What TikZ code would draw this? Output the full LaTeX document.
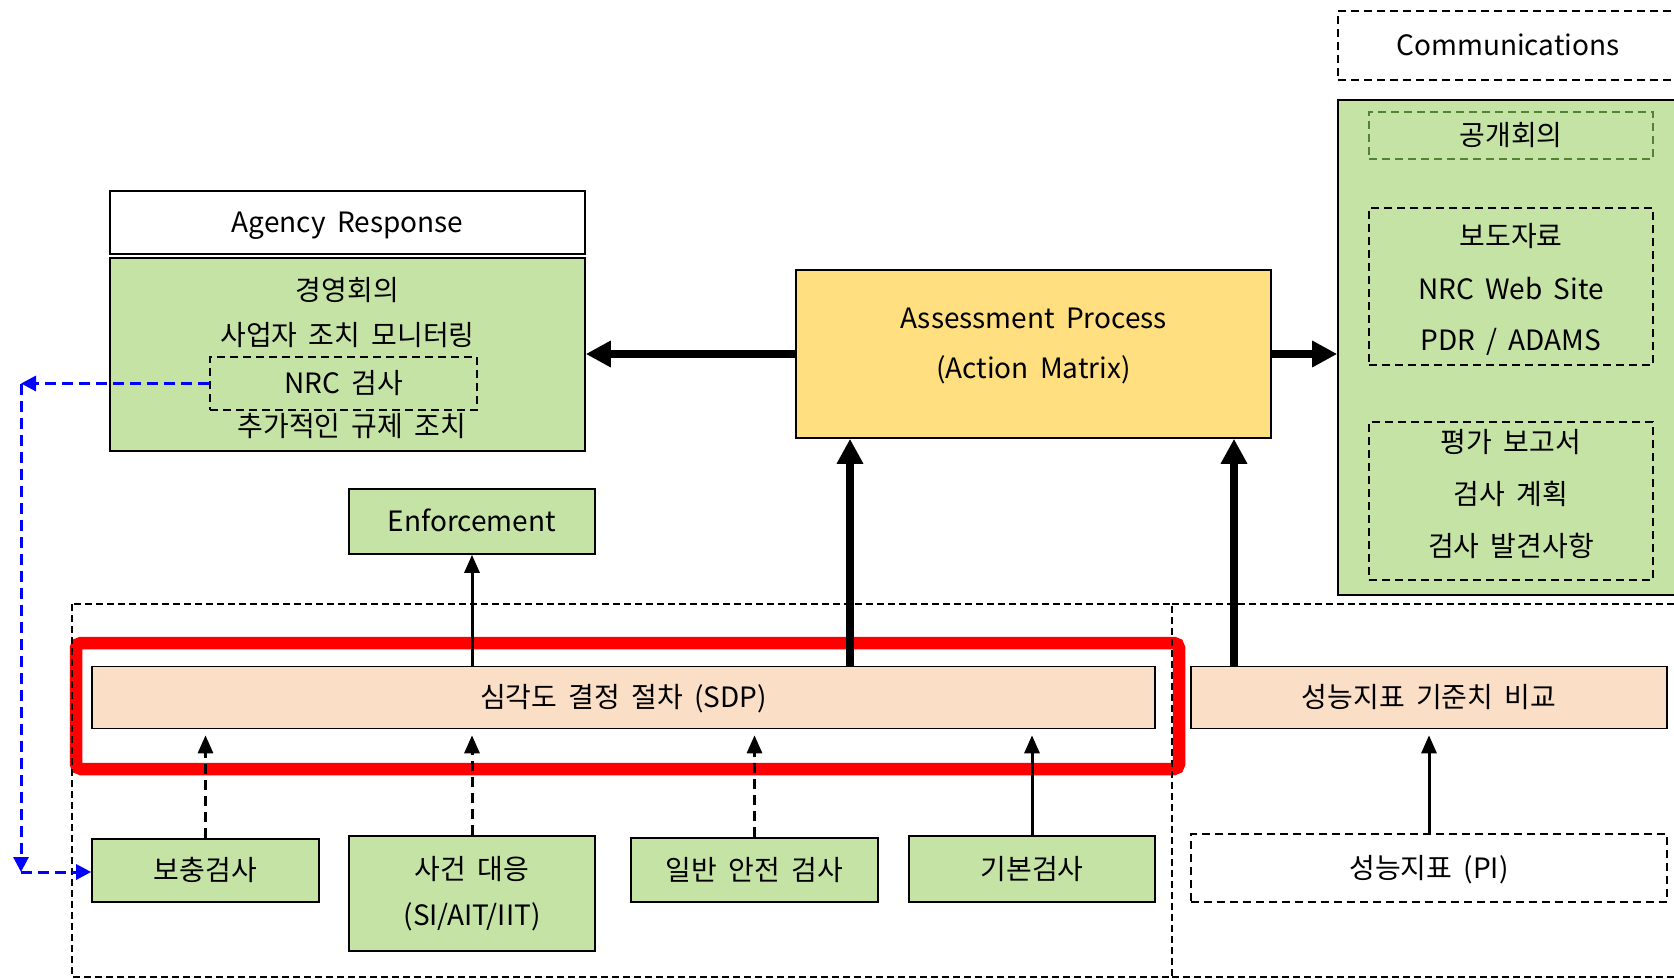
\documentclass[tikz,border=0pt]{standalone}
\usepackage{fontspec}
\setmainfont[WordSpace=1.8]{Noto Sans CJK KR}
\usetikzlibrary{arrows.meta}
\definecolor{leafgreen}{RGB}{198,227,166}
\definecolor{sungold}{RGB}{255,223,128}
\definecolor{peach}{RGB}{250,222,198}
\definecolor{olivedash}{RGB}{84,130,53}
\definecolor{linkblue}{RGB}{0,0,255}
\begin{document}
\begin{tikzpicture}[x=1pt,y=-1pt,
  font=\fontsize{28}{32}\selectfont,
  box/.style={draw, line width=1.6pt, inner sep=0pt, align=center,
    text height=26pt, text depth=6pt},
  dbox/.style={box, line width=2.8pt, dash pattern=on 8pt off 5pt},
  txt/.style={inner sep=0pt, text height=26pt, text depth=6pt},
  region/.style={line width=2.6pt, dash pattern=on 7pt off 4pt},
  bigarrow/.style={line width=8.5pt, -{Triangle[length=25pt,width=25pt]}},
  arrowline/.style={line width=3pt, -{Triangle[length=18pt,width=15pt]}},
  darrowline/.style={arrowline, dash pattern=on 10pt off 6pt},
  bluedash/.style={linkblue, line width=3pt, dash pattern=on 11pt off 6pt,
    -{Triangle[length=15pt,width=15pt]}}]
\useasboundingbox (0,0) rectangle (1674,979);

% ---- Communications column ----
\node[dbox, fill=white, minimum width=340pt, minimum height=69pt] (comm) at (1508,45.5) {Communications};
\node[box, fill=leafgreen, minimum width=340pt, minimum height=495pt] (commbox) at (1508,347.5) {};
\node[dbox, draw=olivedash, minimum width=284pt, minimum height=47pt] (pub) at (1511,135.5) {공개회의};
\node[dbox, minimum width=284pt, minimum height=157pt] (press) at (1511,286.5) {};
\node[txt] (pressA) at (1511,236) {보도자료};
\node[txt] (pressB) at (1511,289) {NRC Web Site};
\node[txt] (pressC) at (1511,340.5) {PDR / ADAMS};
\node[dbox, minimum width=284pt, minimum height=158pt] (eval) at (1511,501) {};
\node[txt] (evalA) at (1511,442) {평가 보고서};
\node[txt] (evalB) at (1511,494) {검사 계획};
\node[txt] (evalC) at (1511,546.5) {검사 발견사항};

% ---- Agency response ----
\node[box, fill=white, minimum width=475pt, minimum height=63pt] (agency) at (347.5,222.5) {Agency Response};
\node[box, fill=leafgreen, minimum width=475pt, minimum height=193pt] (agbox) at (347.5,354.5) {};
\node[txt] (agA) at (347.5,290) {경영회의};
\node[txt] (agB) at (347.5,335) {사업자 조치 모니터링};
\node[dbox, minimum width=267pt, minimum height=53pt] (nrc) at (343.5,383.5) {NRC 검사};
\node[txt] (agD) at (352,426) {추가적인 규제 조치};

% ---- Assessment process ----
\node[box, fill=sungold, minimum width=475pt, minimum height=168pt] (assess) at (1033.5,354) {};
\node[txt] (assessA) at (1033.5,318) {Assessment Process};
\node[txt] (assessB) at (1033.5,368) {(Action Matrix)};

% ---- Enforcement ----
\node[box, fill=leafgreen, minimum width=246pt, minimum height=65pt] (enf) at (472,521.5) {Enforcement};

% ---- highlight around the SDP ----
\draw[red, line width=12.5pt, rounded corners=5pt] (76,643) rectangle (1179,769);

% ---- dashed regions ----
\draw[region] (72,604) rectangle (1172,977);
\draw[region] (1172,604) -- (1690,604);
\draw[region] (1172,977) -- (1690,977);

% ---- SDP and PI comparison ----
\node[box, fill=peach, minimum width=1063pt, minimum height=62pt] (sdp) at (623.5,697.5) {심각도 결정 절차 (SDP)};
\node[box, fill=peach, minimum width=476pt, minimum height=62pt] (picmp) at (1429,697.5) {성능지표 기준치 비교};

% ---- inspection inputs ----
\node[box, fill=leafgreen, minimum width=227pt, minimum height=63pt] (supp) at (205.5,870.5) {보충검사};
\node[box, fill=leafgreen, minimum width=246pt, minimum height=115pt] (event) at (472,893.5) {};
\node[txt] (eventA) at (472,869) {사건 대응};
\node[txt] (eventB) at (472,915) {(SI/AIT/IIT)};
\node[box, fill=leafgreen, minimum width=247pt, minimum height=64pt] (gen) at (754.5,870) {일반 안전 검사};
\node[box, fill=leafgreen, minimum width=246pt, minimum height=66pt] (base) at (1032,869) {기본검사};
\node[dbox, fill=white, minimum width=476pt, minimum height=68pt] (pi) at (1429,868) {성능지표 (PI)};

% ---- connectors ----
\draw[bigarrow] (assess.west) -- (agbox.east |- assess.west);
\draw[bigarrow] (assess.east) -- (commbox.west |- assess.east);
\coordinate (sdpUp) at (850,0);
\coordinate (piUp) at (1234,0);
\draw[bigarrow] (sdpUp |- sdp.north) -- (sdpUp |- assess.south);
\draw[bigarrow] (piUp |- picmp.north) -- (piUp |- assess.south);
\draw[arrowline] (enf.south |- sdp.north) -- (enf.south);
\draw[darrowline, shorten >=6pt] (supp.north) -- (supp.north |- sdp.south);
\draw[darrowline, shorten >=6pt] (event.north) -- (event.north |- sdp.south);
\draw[darrowline, shorten >=6pt] (gen.north) -- (gen.north |- sdp.south);
\draw[arrowline, shorten >=6pt] (base.north) -- (base.north |- sdp.south);
\draw[arrowline, shorten >=6pt] (pi.north) -- (picmp.south);

% ---- feedback from NRC inspection to supplemental inspection ----
\coordinate (fbTop) at (21,383.5);
\coordinate (fbBot) at (21,872);
\draw[bluedash] (nrc.west) -- (fbTop);
\draw[bluedash] (fbTop) -- (fbBot);
\draw[bluedash] (fbBot) -- (supp.west |- fbBot);
\end{tikzpicture}
\end{document}
